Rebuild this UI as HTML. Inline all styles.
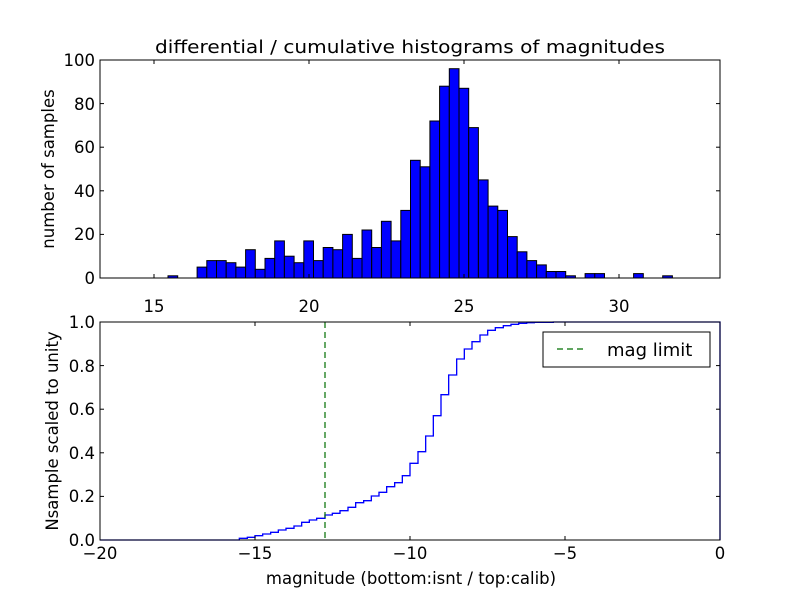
<!DOCTYPE html>
<html><head><meta charset="utf-8"><style>
body{margin:0;background:#fff;}
svg{display:block;font-family:"DejaVu Sans","Liberation Sans",sans-serif;}
</style></head><body>
<svg width="800" height="600" viewBox="0 0 800 600" xmlns="http://www.w3.org/2000/svg">
<rect width="800" height="600" fill="#fff"/>
<text x="410" y="53" font-size="18" text-anchor="middle" textLength="510" lengthAdjust="spacingAndGlyphs">differential / cumulative histograms of magnitudes</text>
<g id="bars" fill="#0000ff" stroke="#000" stroke-width="1"></g>
<rect x="100" y="60" width="620" height="218" fill="none" stroke="#000" stroke-width="1"/>
<g stroke="#000" stroke-width="1">
<line x1="154" y1="60" x2="154" y2="64"/><line x1="309" y1="60" x2="309" y2="64"/><line x1="464" y1="60" x2="464" y2="64"/><line x1="619" y1="60" x2="619" y2="64"/>
<line x1="154" y1="278" x2="154" y2="274"/><line x1="309" y1="278" x2="309" y2="274"/><line x1="464" y1="278" x2="464" y2="274"/><line x1="619" y1="278" x2="619" y2="274"/>
<line x1="100" y1="60" x2="104" y2="60"/><line x1="100" y1="103.6" x2="104" y2="103.6"/><line x1="100" y1="147.2" x2="104" y2="147.2"/><line x1="100" y1="190.8" x2="104" y2="190.8"/><line x1="100" y1="234.4" x2="104" y2="234.4"/>
<line x1="720" y1="103.6" x2="716" y2="103.6"/><line x1="720" y1="147.2" x2="716" y2="147.2"/><line x1="720" y1="190.8" x2="716" y2="190.8"/><line x1="720" y1="234.4" x2="716" y2="234.4"/>
</g>
<g font-size="16.5" text-anchor="end">
<text x="95" y="66">100</text><text x="95" y="110">80</text><text x="95" y="153">60</text><text x="95" y="197">40</text><text x="95" y="240">20</text><text x="95" y="284">0</text>
</g>
<g font-size="16.5" text-anchor="middle">
<text x="154" y="312">15</text><text x="309" y="312">20</text><text x="464" y="312">25</text><text x="619" y="312">30</text>
</g>
<text transform="translate(54,169) rotate(-90)" font-size="16.5" text-anchor="middle">number of samples</text>

<g transform="translate(220,315) scale(0.33333)">
<path fill="none" stroke="#0000ff" stroke-width="4" d="M -360 675 H 58 V 670 H 82 V 667 H 105 V 662 H 128 V 657 H 152 V 652 H 175 V 645 H 198 V 640 H 222 V 633 H 245 V 622 H 268 V 615 H 290 V 610 H 315 V 600 H 337 V 595 H 360 V 587 H 384 V 577 H 407 V 563 H 431 V 557 H 454 V 543 H 477 V 532 H 500 V 515 H 524 V 503 H 547 V 482 H 570 V 445 H 594 V 410 H 617 V 363 H 640 V 302 H 663 V 239 H 686 V 180 H 710 V 132 H 733 V 102 H 756 V 80 H 780 V 60 H 803 V 46 H 826 V 38 H 850 V 32 H 873 V 28 H 896 V 25 H 920 V 23 H 943 V 22 H 1000 V 21 H 1500 V 675"/>
</g>
<line x1="325" y1="322" x2="325" y2="540" stroke="#006f00" stroke-width="1.2" stroke-dasharray="6,4"/>
<rect x="100" y="322" width="620" height="218" fill="none" stroke="#000" stroke-width="1"/>
<g stroke="#000" stroke-width="1">
<line x1="255" y1="322" x2="255" y2="326"/><line x1="410" y1="322" x2="410" y2="326"/><line x1="565" y1="322" x2="565" y2="326"/>
<line x1="255" y1="540" x2="255" y2="536"/><line x1="410" y1="540" x2="410" y2="536"/><line x1="565" y1="540" x2="565" y2="536"/>
<line x1="100" y1="496.4" x2="104" y2="496.4"/><line x1="100" y1="452.8" x2="104" y2="452.8"/><line x1="100" y1="409.2" x2="104" y2="409.2"/><line x1="100" y1="365.6" x2="104" y2="365.6"/>
<line x1="720" y1="496.4" x2="716" y2="496.4"/><line x1="720" y1="452.8" x2="716" y2="452.8"/><line x1="720" y1="409.2" x2="716" y2="409.2"/><line x1="720" y1="365.6" x2="716" y2="365.6"/>
</g>
<g font-size="16.5" text-anchor="end">
<text x="95" y="328">1.0</text><text x="95" y="372">0.8</text><text x="95" y="415">0.6</text><text x="95" y="459">0.4</text><text x="95" y="502">0.2</text><text x="95" y="546">0.0</text>
</g>
<g font-size="16.5" text-anchor="middle">
<text x="100" y="559">−20</text><text x="255" y="559">−15</text><text x="410" y="559">−10</text><text x="565" y="559">−5</text><text x="720" y="559">0</text>
</g>
<text x="411" y="584" font-size="16.5" text-anchor="middle">magnitude (bottom:isnt / top:calib)</text>
<text transform="translate(58,431) rotate(-90)" font-size="16.5" text-anchor="middle">Nsample scaled to unity</text>
<rect x="543" y="332" width="167" height="35" fill="#fff" stroke="#000" stroke-width="1"/>
<line x1="557" y1="349" x2="585" y2="349" stroke="#006f00" stroke-width="1.2" stroke-dasharray="6,4"/>
<text x="607" y="356" font-size="18">mag limit</text>
</svg>
<script>
var c=[1,0,0,5,8,8,7,5,13,4,9,17,10,7,17,8,14,13,20,9,22,14,26,17,31,54,51,72,88,96,87,69,45,33,31,19,12,8,6,3,3,1,0,2,2,0,0,0,2,0,0,1];
var g=document.getElementById('bars'),s='';
for(var i=0;i<c.length;i++){if(!c[i])continue;var h=c[i]*2.18;s+='<rect x="'+(168+i*9.7).toFixed(1)+'" y="'+(278-h).toFixed(1)+'" width="9.7" height="'+h.toFixed(1)+'"/>';}
g.innerHTML=s;
</script>
</body></html>
